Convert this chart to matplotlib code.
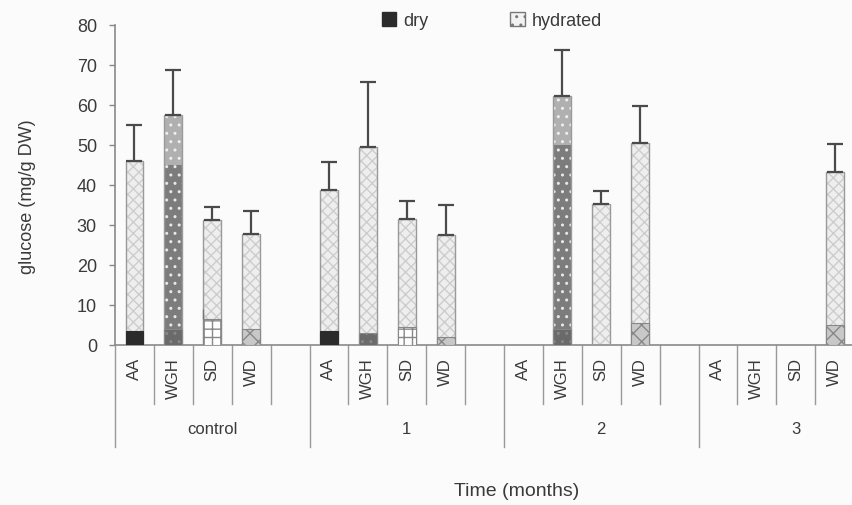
import matplotlib
matplotlib.use("Agg")
import matplotlib.pyplot as plt
import numpy as np
from matplotlib.patches import Patch

plt.rcParams['font.family'] = ['Liberation Sans', 'DejaVu Sans']

# datos (mg/g DW)
groups = ["control", "1", "2", "3"]
cultivars = ["AA", "WGH", "SD", "WD"]

hydrated = [[46.0, 57.4, 31.2, 27.8],
            [38.8, 49.6, 31.5, 27.5],
            [np.nan, 62.2, 35.2, 50.5],
            [np.nan, np.nan, np.nan, 43.2]]
hydrated_err = [[9.0, 11.3, 3.4, 5.8],
                [7.0, 16.1, 4.5, 7.5],
                [np.nan, 11.5, 3.4, 9.3],
                [np.nan, np.nan, np.nan, 7.1]]
dry = [[3.6, 4.0, 6.5, 4.0],
       [3.4, 3.0, 4.5, 2.0],
       [np.nan, 4.0, np.nan, 5.5],
       [np.nan, np.nan, np.nan, 5.0]]
dry_err = [[0, 0, 2.5, 0],
           [0, 0, 0, 0],
           [0, 0, 0, 0],
           [0, 0, 0, 0]]

# estilos
txt = '#3a3a3a'
dry_face = {'AA': '#2b2b2b', 'WGH': '#6a6a6a', 'SD': '#ffffff', 'WD': '#c8c8c8'}
dry_hatch = {'AA': None, 'WGH': '..', 'SD': '++', 'WD': 'xx'}
# barras hidratadas oscuras (grupo, cultivar): altura del cambio de patron
dark_hyd = {(0, 1): 45, (2, 1): 50}

fig = plt.figure(figsize=(8.52, 5.05), dpi=100, facecolor='#fbfbfb')
ax = fig.add_axes([115/852, 160/505, 778/852, 320/505])
ax.set_facecolor('#fbfbfb')

nslot = len(cultivars) + 1
w = 0.46
for g in range(len(groups)):
    for c, cv in enumerate(cultivars):
        x = g*nslot + c + 0.5
        h = hydrated[g][c]
        if not np.isnan(h):
            if (g, c) in dark_hyd:
                cut = dark_hyd[(g, c)]
                ax.bar(x, cut, w, color='#7c7c7c', hatch='..', edgecolor='#e8e8e8', lw=0, zorder=2)
                ax.bar(x, h - cut, w, bottom=cut, color='#b0b0b0', hatch='..', edgecolor='#eeeeee', lw=0, zorder=2)
            else:
                ax.bar(x, h, w, color='#eeeeee', hatch='xxx', edgecolor='#cdcdcd', lw=0, zorder=2)
            ax.bar(x, h, w, fill=False, edgecolor='#9a9a9a', lw=1, zorder=3)
            ax.errorbar(x, h, yerr=[[0], [hydrated_err[g][c]]], fmt='none', ecolor='#4a4a4a',
                        elinewidth=1.6, capsize=5.5, capthick=1.6, zorder=4)
        d = dry[g][c]
        if not np.isnan(d):
            ax.bar(x, d, w, color=dry_face[cv], hatch=dry_hatch[cv],
                   edgecolor='#888888' if cv != 'AA' else '#2b2b2b', lw=0.8, zorder=5)
            if dry_err[g][c] > 0:
                ax.errorbar(x - w/2, d, yerr=[[0], [dry_err[g][c]]], fmt='none', ecolor='#777777',
                            elinewidth=1, capsize=0, zorder=6)

ax.set_xlim(0, len(groups)*nslot)
ax.set_ylim(0, 80)
ax.set_yticks(np.arange(0, 81, 10))
ax.tick_params(axis='y', direction='out', length=4, width=1, color='#888888',
               labelsize=13, labelcolor=txt, pad=9)
ax.set_xticks([])
for s in ['top', 'right']:
    ax.spines[s].set_visible(False)
ax.spines['left'].set_color('#8a8a8a')
ax.spines['bottom'].set_color('#8a8a8a')
ax.spines['left'].set_linewidth(1.2)
ax.spines['bottom'].set_linewidth(1.2)

# ejes de categorias multinivel
trans = ax.get_xaxis_transform()
for i in range(len(groups)*nslot + 1):
    depth = -0.32 if i % nslot == 0 else -0.185
    ax.plot([i, i], [0, depth], transform=trans, color='#9a9a9a', lw=1, clip_on=False)
for g, name in enumerate(groups):
    for c, cv in enumerate(cultivars):
        ax.text(g*nslot + c + 0.5, -0.04, cv, transform=trans, rotation=90, ha='center',
                va='top', fontsize=12, color=txt)
    ax.text(g*nslot + 2.5, -0.265, name, transform=trans, ha='center', va='center',
            fontsize=12, color=txt)

fig.text(28/852, 1 - 197/505, "glucose (mg/g DW)", rotation=90, ha='center', va='center',
         fontsize=13, color=txt)
fig.text(517/852, 1 - 491/505, "Time (months)", ha='center', va='center', fontsize=14, color=txt)

handles = [Patch(facecolor='#2b2b2b', edgecolor='#2b2b2b'),
           Patch(facecolor='#f2f2f2', edgecolor='#777777', hatch='..')]
fig.legend(handles, ['dry', 'hydrated'], loc='center', bbox_to_anchor=(492/852, 1 - 21/505),
           ncol=2, frameon=False, fontsize=13, handlelength=0.8, handleheight=0.8,
           handletextpad=0.4, columnspacing=4.5, labelcolor=txt)

fig.savefig("out.png", dpi=100, facecolor=fig.get_facecolor())
